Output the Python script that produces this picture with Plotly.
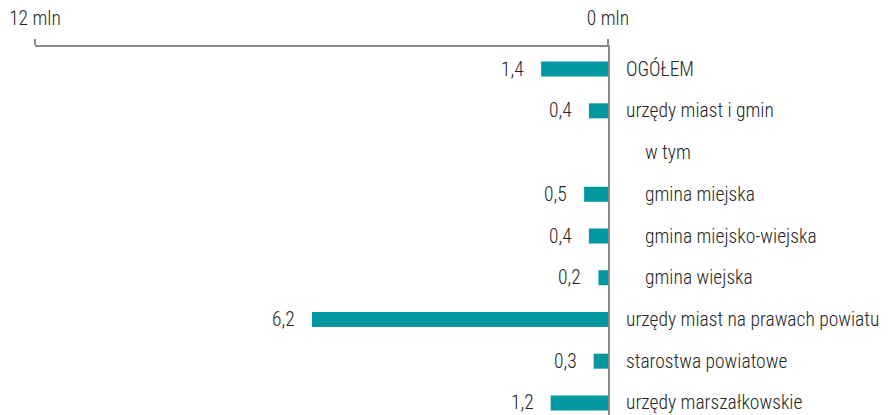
import plotly.graph_objects as go

categories = ["OGÓŁEM", "urzędy miast i gmin", "w tym", "gmina miejska",
              "gmina miejsko-wiejska", "gmina wiejska",
              "urzędy miast na prawach powiatu", "starostwa powiatowe",
              "urzędy marszałkowskie"]
values = [1.4, 0.4, None, 0.5, 0.4, 0.2, 6.2, 0.3, 1.2]
indented = [False, False, True, True, True, True, False, False, False]
tick_vals = [12, 0]
tick_text = ["12 mln", "0 mln"]

BAR = "#0097A0"
TXT = "#262626"
AX = "#8a8a8a"
FONT = "Roboto Condensed, Roboto, sans-serif"
FS = 19.5
FW = 300

fig = go.Figure()
fig.add_trace(go.Bar(
    x=values, y=categories, orientation="h",
    marker=dict(color=BAR, line=dict(width=0)),
    width=0.36, hoverinfo="skip",
))

annotations = []
for c, v, ind in zip(categories, values, indented):
    annotations.append(dict(
        x=1, xref="paper", y=c, yref="y", text=c, showarrow=False,
        xanchor="left", yanchor="middle", xshift=35 if ind else 16,
        font=dict(family=FONT, size=FS, color=TXT, weight=FW),
    ))
    if v is not None:
        annotations.append(dict(
            x=v, xref="x", y=c, yref="y",
            text=f"{v:.1f}".replace(".", ","), showarrow=False,
            xanchor="right", yanchor="middle", xshift=-15,
            font=dict(family=FONT, size=FS, color=TXT, weight=FW),
        ))

fig.update_layout(
    width=884, height=407,
    margin=dict(l=27, r=284, t=39, b=0),
    paper_bgcolor="white", plot_bgcolor="white",
    showlegend=False,
    font=dict(family=FONT, size=FS, color=TXT, weight=FW),
    annotations=annotations,
    xaxis=dict(
        range=[12, 0], side="top", tickvals=tick_vals, ticktext=tick_text,
        showgrid=False, zeroline=False, showline=True, linecolor=AX,
        linewidth=2, ticks="outside", ticklen=6, tickwidth=1.5,
        tickcolor=AX, ticklabelstandoff=6,
        tickfont=dict(family=FONT, size=FS, color=TXT, weight=FW),
    ),
    yaxis=dict(
        categoryorder="array", categoryarray=categories,
        range=[8.29, -0.53], side="right", showticklabels=False,
        showgrid=False, zeroline=False, showline=True, linecolor=AX,
        linewidth=2, ticks="",
    ),
)

fig.write_html("out.html")
